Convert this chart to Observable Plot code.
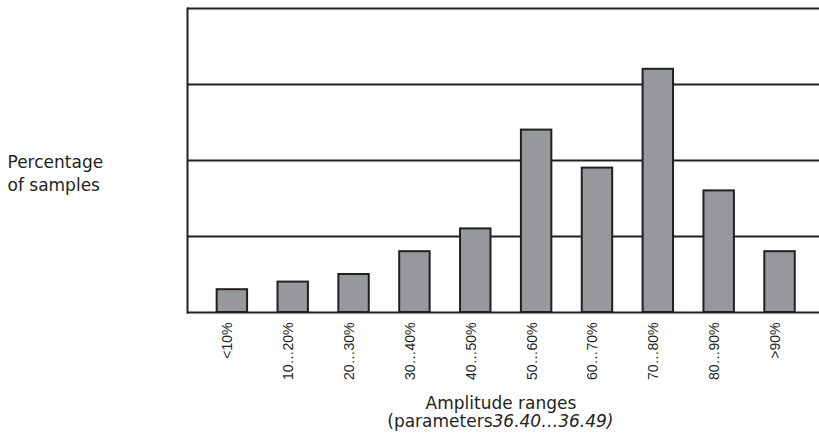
<!DOCTYPE html>
<html>
<head>
<meta charset="utf-8">
<script src="https://cdn.jsdelivr.net/npm/d3@7"></script>
<script src="https://cdn.jsdelivr.net/npm/@observablehq/plot@0.6"></script>
<style>
  html, body { margin: 0; padding: 0; background: #fff; }
  #chart svg { display: block; }
</style>
</head>
<body>
<div id="chart"></div>
<script>
const categories = ["<10%", "10…20%", "20…30%", "30…40%", "40…50%", "50…60%", "60…70%", "70…80%", "80…90%", ">90%"];
const values = [0.3, 0.4, 0.5, 0.8, 1.1, 2.4, 1.9, 3.2, 1.6, 0.8];
const gridValues = [0, 1, 2, 3, 4];
const yLabel = "Percentage\nof samples";
const xTitle = "Amplitude ranges";
const xSubtitleA = "(parameters";
const xSubtitleB = "36.40…36.49)";

const data = categories.map((c, i) => ({category: c, value: values[i]}));
const ink = "#231f20";
const titleFont = "DejaVu Sans";

const chart = Plot.plot({
  width: 819,
  height: 438,
  marginLeft: 187,
  marginRight: 0,
  marginTop: 8,
  marginBottom: 126,
  style: {background: "#fff", color: ink},
  x: {domain: categories, paddingInner: 0.5, paddingOuter: 0.443, align: 0.55, round: false, axis: null},
  y: {domain: [0, 4], axis: null},
  marks: [
    Plot.ruleY(gridValues, {stroke: ink, strokeWidth: 2}),
    Plot.frame({anchor: "left", stroke: ink, strokeWidth: 2}),
    Plot.barY(data, {x: "category", y: "value", fill: "#97989c", stroke: ink, strokeWidth: 2, inset: 0}),
    Plot.text(categories, {x: d => d, text: d => d, frameAnchor: "bottom", dy: 10, rotate: -90, textAnchor: "end", fontSize: 14, fontFamily: "Liberation Sans", fill: ink}),
    Plot.text([yLabel], {text: d => d, frameAnchor: "left", dx: -180, dy: 12, textAnchor: "start", lineHeight: 1.35, fontSize: 17, fontFamily: titleFont, fill: ink}),
    Plot.text([xTitle], {text: d => d, frameAnchor: "bottom", dx: -2.5, dy: 96.6, fontSize: 17, fontFamily: titleFont, fill: ink}),
    Plot.text([xSubtitleA], {text: d => d, frameAnchor: "bottom", dx: -11, dy: 114, textAnchor: "end", fontSize: 17, fontFamily: titleFont, fill: ink}),
    Plot.text([xSubtitleB], {text: d => d, frameAnchor: "bottom", dx: -11, dy: 114, textAnchor: "start", fontSize: 17, fontStyle: "italic", fontFamily: titleFont, fill: ink})
  ]
});
document.getElementById("chart").appendChild(chart);
</script>
</body>
</html>
